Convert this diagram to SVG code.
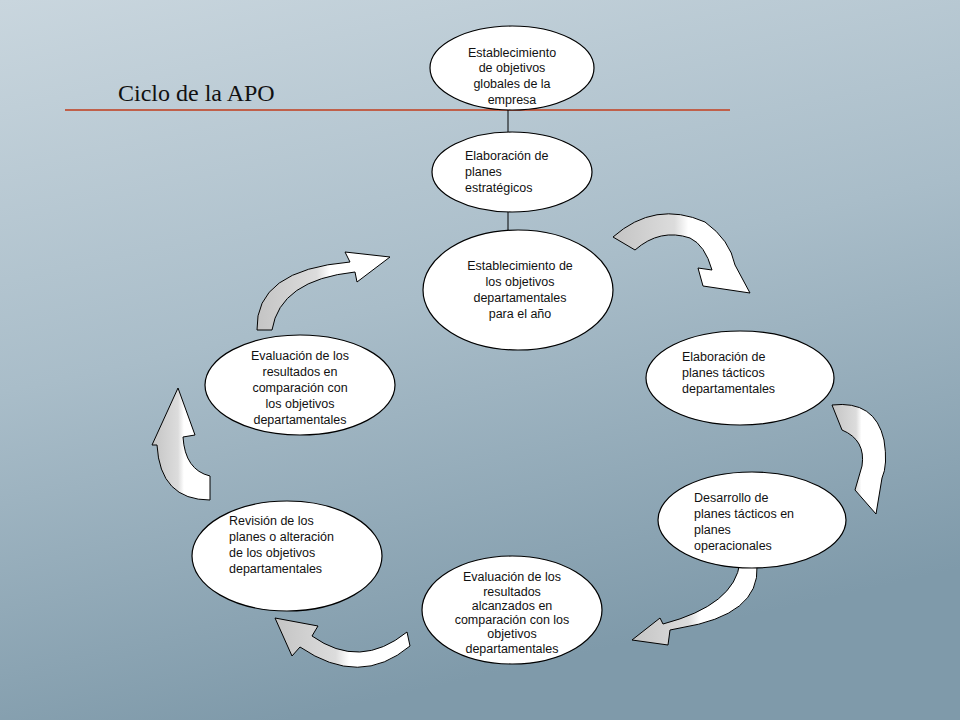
<svg xmlns="http://www.w3.org/2000/svg" width="960" height="720" viewBox="0 0 960 720">
<defs>
<linearGradient id="bg" x1="0" y1="0" x2="0.3" y2="1">
<stop offset="0" stop-color="#c9d6de"/><stop offset="0.5" stop-color="#a9bdc9"/><stop offset="1" stop-color="#7f9aaa"/>
</linearGradient>
<linearGradient id="ag" x1="0" y1="0" x2="1" y2="0">
<stop offset="0" stop-color="#c4c4c4"/><stop offset="0.45" stop-color="#dcdcdc"/><stop offset="0.55" stop-color="#fff"/><stop offset="1" stop-color="#fff"/>
</linearGradient>
<style>
.n{fill:#fff;stroke:#000;stroke-width:1.2}
.t{font-family:"Liberation Sans",Arial,sans-serif;font-size:12.5px;fill:#111}
.c{text-anchor:middle}
.a{fill:url(#ag);stroke:#000;stroke-width:1}
</style>
</defs>
<rect width="960" height="720" fill="url(#bg)"/>
<line x1="65" y1="110" x2="730" y2="110" stroke="#c0604a" stroke-width="2"/>
<text x="118" y="101" font-family="Liberation Serif,serif" font-size="24" fill="#111">Ciclo  de la APO</text>
<g id="connectors">
<line x1="508" y1="108" x2="508" y2="134" stroke="#000"/>
<line x1="508" y1="210" x2="508" y2="232" stroke="#000"/>
<path class="a" d="M613,237 Q655,200 705,222 Q730,240 735,265 L750,293 L703,286 L698,268 L712,270 Q705,245 690,238 Q660,228 635,250 Z"/>
<path class="a" d="M832,405 Q875,400 884,440 Q888,465 882,478 L876,514 L855,490 L862,466 Q866,440 842,430 Z"/>
<path class="a" d="M740,562 L757,566 Q760,615 680,628 L670,630 L668,645 L632,640 L660,618 L663,624 Q735,605 740,562 Z"/>
<path class="a" d="M407,632 Q360,670 312,636 L318,626 L275,618 L292,656 L300,647 Q360,688 410,646 Z"/>
<path class="a" d="M210,500 Q160,500 157,445 L152,445 L178,388 L195,435 L183,437 Q185,470 210,476 Z"/>
<path class="a" d="M257,330 Q255,270 350,262 L345,252 L390,257 L357,282 L355,272 Q280,280 272,330 Z"/>
</g>
<g id="n1"><ellipse class="n" cx="512" cy="68" rx="82" ry="42"/>
<text class="t c" x="512" y="57">Establecimiento</text><text class="t c" x="512" y="72">de objetivos</text><text class="t c" x="512" y="88">globales de la</text><text class="t c" x="512" y="104">empresa</text></g>
<g id="n2"><ellipse class="n" cx="512" cy="172" rx="80" ry="40"/>
<text class="t" x="465" y="160">Elaboración de</text><text class="t" x="465" y="176">planes</text><text class="t" x="465" y="192">estratégicos</text></g>
<g id="n3"><ellipse class="n" cx="518" cy="290" rx="95" ry="60"/>
<text class="t c" x="520" y="270">Establecimiento  de</text><text class="t c" x="520" y="286">los objetivos</text><text class="t c" x="520" y="302">departamentales</text><text class="t c" x="520" y="318">para el año</text></g>
<g id="n4"><ellipse class="n" cx="740" cy="378" rx="94" ry="47"/>
<text class="t" x="682" y="361">Elaboración de</text><text class="t" x="682" y="377">planes tácticos</text><text class="t" x="682" y="393">departamentales</text></g>
<g id="n5"><ellipse class="n" cx="752" cy="520" rx="94" ry="48"/>
<text class="t" x="694" y="502">Desarrollo de</text><text class="t" x="694" y="518">planes tácticos en</text><text class="t" x="694" y="534">planes</text><text class="t" x="694" y="550">operacionales</text></g>
<g id="n6"><ellipse class="n" cx="512" cy="610" rx="90" ry="54"/>
<text class="t c" x="512" y="581" font-size="11">Evaluación de los</text><text class="t c" x="512" y="596" font-size="11">resultados</text><text class="t c" x="512" y="610" font-size="11">alcanzados en</text><text class="t c" x="512" y="624" font-size="11">comparación con los</text><text class="t c" x="512" y="638" font-size="11">objetivos</text><text class="t c" x="512" y="653" font-size="11">departamentales</text></g>
<g id="n7"><ellipse class="n" cx="287" cy="556" rx="95" ry="55"/>
<text class="t" x="229" y="525">Revisión de los</text><text class="t" x="229" y="541">planes o alteración</text><text class="t" x="229" y="557">de los objetivos</text><text class="t" x="229" y="573">departamentales</text></g>
<g id="n8"><ellipse class="n" cx="300" cy="385" rx="95" ry="50"/>
<text class="t c" x="300" y="360">Evaluación de los</text><text class="t c" x="300" y="376">resultados  en</text><text class="t c" x="300" y="392">comparación con</text><text class="t c" x="300" y="408">los objetivos</text><text class="t c" x="300" y="424">departamentales</text></g>
</svg>
